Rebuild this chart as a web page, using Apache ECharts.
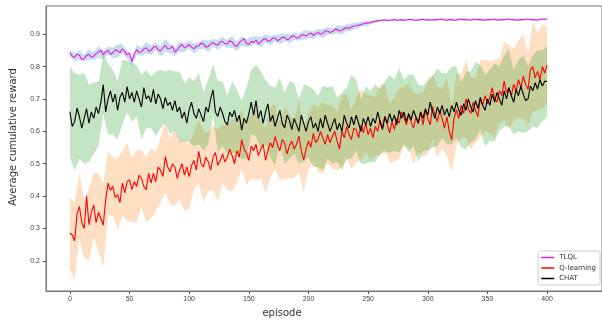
<!DOCTYPE html>
<html><head><meta charset="utf-8">
<script src="https://cdn.jsdelivr.net/npm/echarts@6/dist/echarts.min.js"></script>
<style>html,body{margin:0;padding:0;background:#fff}#c{width:602px;height:322px}</style>
</head><body><div id="c"></div>
<script>
// mean curves sampled every 2 episodes (0..400), band spreads every 4 episodes
const lineStep = 2;
const bandStep = 4;
const xTicks = [0,50,100,150,200,250,300,350,400];
const yTicks = [0.2,0.3,0.4,0.5,0.6,0.7,0.8,0.9];
const seriesNames = ['TLQL','Q-learning','CHAT'];

const tlqlMean = [
0.843,0.832,0.828,0.838,0.835,0.822,0.826,0.834,0.838,0.829,0.832,0.840,0.845,0.850,0.836,0.846,0.850,0.838,0.842,0.852,0.848,0.843,0.855,0.847,0.836,
0.842,0.815,0.838,0.852,0.844,0.846,0.855,0.858,0.848,0.850,0.860,0.862,0.852,0.848,0.858,0.866,0.855,0.856,0.864,0.845,0.852,0.862,0.868,0.858,0.862,
0.868,0.860,0.855,0.862,0.864,0.872,0.870,0.860,0.862,0.870,0.874,0.868,0.866,0.876,0.878,0.871,0.870,0.880,0.876,0.866,0.862,0.874,0.880,0.886,0.872,
0.868,0.878,0.874,0.882,0.870,0.876,0.884,0.886,0.878,0.880,0.888,0.888,0.880,0.884,0.890,0.890,0.883,0.886,0.894,0.894,0.888,0.890,0.897,0.898,0.894,
0.900,0.904,0.896,0.902,0.905,0.900,0.902,0.910,0.910,0.905,0.908,0.914,0.915,0.910,0.912,0.918,0.920,0.918,0.922,0.925,0.926,0.928,0.930,0.932,0.934,
0.935,0.936,0.938,0.940,0.941,0.942,0.943,0.944,0.942,0.943,0.944,0.945,0.943,0.944,0.945,0.943,0.944,0.945,0.946,0.944,0.943,0.944,0.945,0.946,0.944,
0.945,0.944,0.944,0.945,0.945,0.946,0.946,0.944,0.944,0.945,0.945,0.943,0.944,0.946,0.946,0.945,0.945,0.944,0.944,0.946,0.946,0.945,0.945,0.944,0.944,
0.945,0.945,0.946,0.946,0.944,0.944,0.945,0.945,0.946,0.946,0.945,0.945,0.944,0.944,0.945,0.945,0.946,0.946,0.945,0.945,0.944,0.944,0.946,0.946,0.946,
0.947];
const tlqlSpread = [
0.010,0.012,0.014,0.010,0.016,0.012,0.018,0.014,0.012,0.016,0.020,0.014,0.012,
0.014,0.016,0.012,0.018,0.014,0.012,0.016,0.020,0.014,0.012,0.016,0.014,0.012,
0.016,0.012,0.014,0.018,0.012,0.016,0.014,0.012,0.018,0.014,0.016,0.012,
0.014,0.012,0.016,0.012,0.014,0.010,0.016,0.012,0.014,0.012,0.010,0.014,0.012,
0.012,0.010,0.014,0.012,0.010,0.012,0.014,0.010,0.012,0.010,0.008,0.008,
0.006,0.005,0.004,0.004,0.003,0.003,0.004,0.003,0.003,0.004,0.003,0.003,0.003,
0.003,0.003,0.004,0.003,0.003,0.003,0.004,0.003,0.003,0.003,0.004,0.003,
0.003,0.003,0.004,0.003,0.003,0.003,0.004,0.003,0.003,0.003,0.004,0.003,0.003];

const qMean = [
0.286,0.280,0.262,0.345,0.368,0.318,0.300,0.400,0.312,0.350,0.372,0.318,0.350,0.330,0.310,0.389,0.440,0.418,0.430,0.395,0.405,0.380,0.440,0.410,0.445,
0.450,0.420,0.445,0.430,0.465,0.455,0.430,0.420,0.470,0.440,0.470,0.445,0.490,0.480,0.460,0.522,0.490,0.475,0.500,0.490,0.455,0.480,0.500,0.465,0.490,
0.460,0.495,0.510,0.480,0.538,0.500,0.490,0.520,0.505,0.480,0.520,0.535,0.495,0.510,0.530,0.505,0.520,0.545,0.525,0.500,0.540,0.520,0.574,0.545,0.533,
0.510,0.555,0.540,0.560,0.525,0.545,0.560,0.510,0.540,0.565,0.550,0.584,0.560,0.540,0.575,0.564,0.530,0.555,0.570,0.545,0.560,0.585,0.540,0.512,0.545,
0.570,0.550,0.594,0.565,0.575,0.600,0.580,0.560,0.590,0.565,0.584,0.600,0.570,0.545,0.600,0.580,0.615,0.590,0.575,0.610,0.605,0.580,0.620,0.595,0.625,
0.590,0.610,0.580,0.615,0.600,0.635,0.610,0.646,0.620,0.595,0.630,0.605,0.640,0.625,0.660,0.645,0.620,0.650,0.630,0.610,0.645,0.625,0.660,0.620,0.666,
0.640,0.620,0.677,0.650,0.630,0.665,0.640,0.610,0.645,0.600,0.574,0.640,0.666,0.640,0.680,0.655,0.700,0.670,0.655,0.690,0.665,0.645,0.700,0.680,0.710,
0.685,0.705,0.735,0.700,0.690,0.725,0.710,0.755,0.720,0.735,0.710,0.745,0.725,0.760,0.735,0.770,0.745,0.730,0.790,0.800,0.765,0.785,0.760,0.800,0.780,
0.805];
const qSpread = [
0.110,0.120,0.100,0.090,0.110,0.100,0.120,0.130,0.100,0.090,0.110,0.100,0.120,
0.100,0.110,0.090,0.100,0.110,0.090,0.100,0.110,0.100,0.120,0.090,0.110,0.100,
0.090,0.100,0.110,0.090,0.100,0.110,0.090,0.100,0.110,0.100,0.090,0.100,
0.100,0.110,0.090,0.100,0.110,0.100,0.090,0.110,0.100,0.090,0.110,0.100,0.090,
0.090,0.100,0.110,0.090,0.100,0.090,0.110,0.100,0.090,0.100,0.110,0.090,
0.100,0.090,0.110,0.100,0.090,0.100,0.110,0.090,0.100,0.110,0.090,0.100,0.110,
0.100,0.110,0.090,0.120,0.100,0.110,0.100,0.120,0.110,0.100,0.120,0.110,
0.110,0.120,0.100,0.120,0.130,0.110,0.120,0.130,0.110,0.140,0.120,0.130,0.120];

const chatMean = [
0.661,0.615,0.630,0.672,0.645,0.610,0.640,0.670,0.625,0.660,0.640,0.675,0.655,0.690,0.744,0.660,0.700,0.725,0.690,0.715,0.665,0.705,0.720,0.690,0.738,
0.700,0.720,0.690,0.725,0.700,0.675,0.735,0.700,0.710,0.690,0.730,0.685,0.715,0.700,0.670,0.705,0.680,0.690,0.665,0.695,0.660,0.675,0.640,0.660,0.625,
0.666,0.690,0.655,0.640,0.670,0.650,0.630,0.675,0.660,0.700,0.728,0.660,0.646,0.675,0.655,0.630,0.620,0.660,0.645,0.665,0.630,0.650,0.604,0.640,0.625,
0.655,0.690,0.650,0.695,0.640,0.665,0.625,0.660,0.685,0.630,0.650,0.615,0.640,0.665,0.625,0.610,0.650,0.635,0.605,0.640,0.620,0.600,0.650,0.625,0.600,
0.630,0.645,0.610,0.625,0.600,0.640,0.610,0.650,0.625,0.600,0.620,0.640,0.605,0.625,0.600,0.650,0.625,0.610,0.645,0.620,0.650,0.625,0.600,0.640,0.620,
0.645,0.615,0.640,0.625,0.660,0.630,0.605,0.645,0.625,0.655,0.630,0.650,0.620,0.665,0.640,0.660,0.630,0.655,0.635,0.665,0.645,0.625,0.660,0.640,0.670,
0.650,0.690,0.660,0.640,0.675,0.655,0.680,0.650,0.670,0.645,0.680,0.660,0.690,0.665,0.650,0.685,0.665,0.700,0.675,0.660,0.695,0.670,0.705,0.680,0.665,
0.700,0.680,0.715,0.690,0.720,0.700,0.680,0.725,0.700,0.735,0.710,0.690,0.730,0.710,0.740,0.715,0.695,0.700,0.740,0.725,0.750,0.730,0.760,0.740,0.755,
0.754];
const chatSpread = [
0.140,0.150,0.130,0.140,0.120,0.110,0.100,0.090,0.110,0.100,0.090,0.100,0.080,
0.090,0.080,0.100,0.090,0.080,0.100,0.090,0.080,0.100,0.090,0.110,0.090,0.100,
0.100,0.110,0.090,0.100,0.080,0.110,0.100,0.090,0.110,0.100,0.090,0.110,
0.100,0.110,0.120,0.100,0.110,0.120,0.100,0.110,0.120,0.110,0.100,0.120,0.110,
0.120,0.110,0.130,0.110,0.120,0.100,0.120,0.110,0.130,0.110,0.100,0.120,
0.110,0.120,0.100,0.110,0.120,0.110,0.130,0.100,0.120,0.110,0.120,0.100,0.110,
0.110,0.120,0.100,0.110,0.120,0.110,0.100,0.120,0.110,0.120,0.100,0.110,
0.110,0.120,0.100,0.110,0.120,0.100,0.110,0.120,0.100,0.110,0.120,0.110,0.110];

const lineEpisodes = tlqlMean.map((_, i) => i * lineStep);
const bandEpisodes = tlqlSpread.map((_, i) => i * bandStep);
const ratio = bandStep / lineStep;

function pairs(vals){ return lineEpisodes.map((e,i)=>[e, vals[i]]); }

function band(name, mean, spread, color, opacity){
  return {
    type:'custom', name: name + ' band', silent:true, clip:true, z:1,
    data:[[0, mean[0]]],
    renderItem:function(params, api){
      const up = bandEpisodes.map((e,i)=>api.coord([e, mean[i*ratio]+spread[i]]));
      const lo = bandEpisodes.map((e,i)=>api.coord([e, mean[i*ratio]-spread[i]])).reverse();
      return {type:'polygon', shape:{points: up.concat(lo)}, style:{fill:color, opacity:opacity}};
    }
  };
}
function line(name, mean, color){
  return {type:'line', name:name, data:pairs(mean), showSymbol:false, symbol:'none',
    lineStyle:{color:color, width:1.1}, itemStyle:{color:color}, z:3, animation:false};
}

const chart = echarts.init(document.getElementById('c'), null, {renderer:'canvas'});
chart.setOption({
  animation:false,
  grid:{left:46, right:-6, top:6, bottom:31, show:true, borderColor:'#777', borderWidth:1, backgroundColor:'transparent'},
  xAxis:{type:'value', min:-20, max:446,
    axisLine:{show:true, onZero:false, lineStyle:{color:'#777'}},
    axisTick:{show:true, length:3, lineStyle:{color:'#555'}, customValues:xTicks},
    axisLabel:{fontSize:7, color:'#444', margin:5, customValues:xTicks, formatter:v=>String(v)},
    splitLine:{show:false}},
  yAxis:{type:'value', min:0.107, max:0.987,
    axisLine:{show:true, onZero:false, lineStyle:{color:'#777'}},
    axisTick:{show:true, length:3, lineStyle:{color:'#555'}, customValues:yTicks},
    axisLabel:{fontSize:7, color:'#444', margin:6, customValues:yTicks, formatter:v=>v.toFixed(1)},
    splitLine:{show:false}},
  legend:{show:true, orient:'vertical', right:2, bottom:37, data:seriesNames,
    icon:'rect', itemWidth:13, itemHeight:1.5, itemGap:3.5,
    textStyle:{fontSize:7, color:'#333', fontFamily:'DejaVu Sans'},
    padding:[3,4,3,3], borderColor:'#ccc', borderWidth:1, borderRadius:2, backgroundColor:'#fff'},
  graphic:[
    {type:'text', x:13, y:137, rotation:Math.PI/2, style:{text:'Average cumulative reward', fontSize:10, fill:'#333', fontFamily:'DejaVu Sans', textAlign:'center', textVerticalAlign:'middle'}},
    {type:'text', x:282, y:313, style:{text:'episode', fontSize:10, fill:'#333', fontFamily:'DejaVu Sans', textAlign:'center', textVerticalAlign:'middle'}}
  ],
  series:[
    band('TLQL', tlqlMean, tlqlSpread, '#1f77b4', 0.25),
    band('Q-learning', qMean, qSpread, '#ff7f0e', 0.25),
    band('CHAT', chatMean, chatSpread, '#2ca02c', 0.28),
    line('TLQL', tlqlMean, '#e41ee0'),
    line('Q-learning', qMean, '#ff0000'),
    line('CHAT', chatMean, '#000000')
  ]
});
</script></body></html>
